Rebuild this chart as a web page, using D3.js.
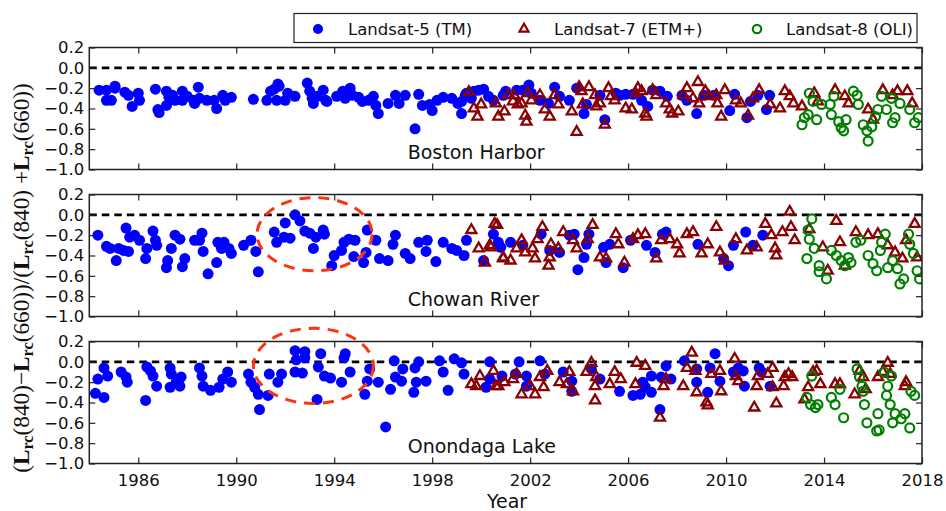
<!DOCTYPE html>
<html>
<head>
<meta charset="utf-8">
<script src="https://cdn.jsdelivr.net/npm/d3@7"></script>
<style>
  body { margin: 0; background: #fff; }
  svg { display: block; font-family: "DejaVu Sans", sans-serif; }
</style>
</head>
<body>
<div id="chart"></div>
<script>

// ================================ data (year, ratio)
var bostonL5 = [
  [1984.4,-0.22],[1984.7,-0.22],[1984.7,-0.32],[1984.9,-0.32],[1985.05,-0.18],[1985.05,-0.2],
  [1985.45,-0.24],[1985.6,-0.27],[1985.75,-0.38],[1986.0,-0.25],[1986.05,-0.32],[1986.7,-0.21],
  [1986.8,-0.41],[1986.85,-0.44],[1987.15,-0.23],[1987.15,-0.37],[1987.25,-0.29],[1987.4,-0.27],
  [1987.5,-0.32],[1987.8,-0.23],[1987.8,-0.32],[1988.0,-0.28],[1988.25,-0.32],[1988.3,-0.35],
  [1988.45,-0.19],[1988.5,-0.30],[1988.8,-0.32],[1989.1,-0.32],[1989.2,-0.40],[1989.45,-0.27],
  [1989.55,-0.32],[1989.8,-0.29],[1990.7,-0.31],[1991.25,-0.32],[1991.4,-0.23],[1991.55,-0.21],
  [1991.7,-0.16],[1991.75,-0.18],[1991.65,-0.32],[1992.0,-0.32],[1992.1,-0.25],[1992.4,-0.28],
  [1992.9,-0.15],[1993.0,-0.23],[1993.1,-0.30],[1993.15,-0.35],[1993.3,-0.28],[1993.55,-0.22],
  [1993.65,-0.32],[1993.7,-0.33],[1994.1,-0.28],[1994.3,-0.27],[1994.35,-0.23],[1994.45,-0.30],
  [1994.65,-0.20],[1994.75,-0.27],[1995.0,-0.29],[1995.15,-0.33],[1995.4,-0.32],[1995.6,-0.28],
  [1995.7,-0.37],[1995.8,-0.45],[1996.2,-0.35],[1996.5,-0.27],[1996.65,-0.35],[1996.9,-0.27],
  [1997.3,-0.60],[1997.45,-0.26],[1997.6,-0.37],[1997.9,-0.36],[1998.0,-0.42],[1998.2,-0.32],
  [1998.45,-0.29],[1998.8,-0.30],[1999.05,-0.35],[1999.2,-0.45],[1999.35,-0.27],[1999.6,-0.30],
  [1999.2,-0.33],[1999.4,-0.25],[1999.7,-0.23],[1999.9,-0.22],[2000.1,-0.21],[2000.3,-0.28],
  [2000.5,-0.32],[2000.9,-0.27],[2001.0,-0.23],[2001.45,-0.22],[2001.7,-0.22],[2001.95,-0.17],
  [2002.05,-0.25],[2002.4,-0.32],[2002.75,-0.35],[2003.0,-0.19],[2003.2,-0.28],[2003.6,-0.32],
  [2003.9,-0.20],[2004.2,-0.45],[2004.3,-0.36],[2004.85,-0.27],[2005.05,-0.51],[2005.5,-0.25],
  [2005.65,-0.27],[2005.9,-0.26],[2006.2,-0.26],[2006.55,-0.32],[2006.8,-0.38],[2007.0,-0.22],
  [2007.3,-0.23],[2007.6,-0.28],[2008.2,-0.27],[2008.4,-0.32],[2008.8,-0.45],[2009.1,-0.27],
  [2009.5,-0.27],[2010.15,-0.42],[2010.35,-0.26],[2010.85,-0.49],[2011.0,-0.33],[2011.3,-0.27],
  [2011.65,-0.41],[2011.78,-0.27]
];
var bostonL7 = [
  [1999.5,-0.24],[1999.7,-0.40],[1999.85,-0.48],[2000.0,-0.36],[2000.6,-0.35],[2000.7,-0.48],
  [2000.95,-0.43],[2001.1,-0.27],[2001.3,-0.33],[2001.35,-0.27],[2001.5,-0.36],[2001.65,-0.35],
  [2001.8,-0.47],[2001.85,-0.53],[2001.9,-0.25],[2002.05,-0.32],[2002.4,-0.27],[2002.6,-0.41],
  [2002.8,-0.48],[2003.0,-0.27],[2003.15,-0.36],[2003.7,-0.43],[2003.9,-0.63],[2004.0,-0.19],
  [2004.1,-0.23],[2004.15,-0.36],[2004.4,-0.19],[2004.65,-0.27],[2004.7,-0.38],[2004.85,-0.35],
  [2005.05,-0.56],[2005.2,-0.20],[2005.3,-0.28],[2005.45,-0.32],[2005.9,-0.40],[2006.15,-0.41],
  [2006.3,-0.25],[2006.4,-0.20],[2006.55,-0.23],[2006.7,-0.45],[2006.75,-0.48],[2007.0,-0.22],
  [2007.15,-0.27],[2007.55,-0.35],[2007.7,-0.41],[2007.8,-0.45],[2008.05,-0.43],[2008.25,-0.27],
  [2008.4,-0.20],[2008.65,-0.30],[2008.85,-0.14],[2008.9,-0.35],[2009.15,-0.23],[2009.3,-0.28],
  [2009.6,-0.27],[2009.65,-0.35],[2009.8,-0.48],[2009.95,-0.22],[2010.4,-0.32],[2010.6,-0.35],
  [2010.9,-0.47],[2011.1,-0.30],[2011.35,-0.22],[2011.8,-0.36],[2012.2,-0.40],[2012.4,-0.23],
  [2012.6,-0.28],[2012.75,-0.35],[2013.1,-0.38],[2013.6,-0.25],[2013.75,-0.33],[2014.45,-0.22],
  [2014.85,-0.28],[2015.0,-0.35],[2015.8,-0.41],[2016.0,-0.51],[2016.4,-0.22],[2016.8,-0.27],
  [2017.0,-0.23],[2017.4,-0.23],[2017.6,-0.35]
];
var bostonL8 = [
  [2013.1,-0.56],[2013.2,-0.49],[2013.35,-0.46],[2013.4,-0.25],[2013.55,-0.33],[2013.7,-0.51],
  [2013.9,-0.36],[2014.25,-0.36],[2014.3,-0.46],[2014.4,-0.28],[2014.6,-0.53],[2014.7,-0.59],
  [2014.8,-0.62],[2014.9,-0.51],[2015.2,-0.23],[2015.35,-0.27],[2015.4,-0.36],[2015.6,-0.56],
  [2015.75,-0.62],[2015.8,-0.72],[2015.95,-0.58],[2016.1,-0.48],[2016.2,-0.41],[2016.35,-0.28],
  [2016.55,-0.41],[2016.75,-0.30],[2016.8,-0.54],[2016.9,-0.49],[2017.1,-0.35],[2017.5,-0.41],
  [2017.7,-0.54],[2017.85,-0.49]
];

var chowanL5 = [
  [1984.35,-0.20],[1984.7,-0.31],[1984.85,-0.33],[1985.1,-0.45],[1985.2,-0.33],[1985.4,-0.35],
  [1985.5,-0.13],[1985.6,-0.36],[1985.65,-0.22],[1985.85,-0.20],[1986.05,-0.25],[1986.3,-0.43],
  [1986.35,-0.33],[1986.6,-0.16],[1986.7,-0.25],[1986.75,-0.30],[1987.15,-0.52],[1987.2,-0.45],
  [1987.35,-0.33],[1987.5,-0.20],[1987.7,-0.24],[1987.8,-0.51],[1987.9,-0.43],[1988.3,-0.25],
  [1988.6,-0.18],[1988.5,-0.25],[1988.65,-0.36],[1988.85,-0.58],[1989.2,-0.47],[1989.25,-0.27],
  [1989.4,-0.33],[1989.5,-0.27],[1989.7,-0.33],[1989.8,-0.38],[1990.3,-0.30],[1990.6,-0.25],
  [1990.8,-0.36],[1990.9,-0.56],[1991.55,-0.17],[1991.65,-0.27],[1991.95,-0.22],[1992.0,-0.08],
  [1992.2,-0.23],[1992.4,0.00],[1992.6,-0.06],[1992.8,-0.16],[1993.0,-0.18],[1993.15,-0.33],
  [1993.25,-0.22],[1993.55,-0.15],[1993.6,-0.19],[1993.9,-0.50],[1994.0,-0.40],[1994.3,-0.35],
  [1994.4,-0.27],[1994.6,-0.24],[1994.85,-0.25],[1994.8,-0.41],[1995.2,-0.47],[1995.35,-0.15],
  [1995.3,-0.37],[1995.7,-0.25],[1995.85,-0.43],[1996.2,-0.45],[1996.4,-0.29],[1996.5,-0.20],
  [1996.9,-0.38],[1997.1,-0.43],[1997.45,-0.27],[1997.75,-0.36],[1997.8,-0.25],[1998.15,-0.46],
  [1998.45,-0.27],[1998.8,-0.33],[1999.0,-0.35],[1999.3,-0.40],[1999.4,-0.25],[2000.1,-0.45],
  [2000.5,-0.19],[2000.7,-0.27],[2000.8,-0.32],[2001.2,-0.27],[2001.7,-0.30],[2002.45,-0.19],
  [2002.8,-0.35],[2003.2,-0.37],[2003.6,-0.20],[2003.8,-0.19],[2003.95,-0.54],[2004.2,-0.42],
  [2004.3,-0.29],[2004.4,-0.19],[2005.0,-0.32],[2005.1,-0.47],[2005.25,-0.29],[2005.8,-0.52],
  [2006.1,-0.25],[2006.75,-0.30],[2007.1,-0.37],[2007.4,-0.19],[2007.55,-0.17],[2008.85,-0.29],
  [2009.9,-0.43],[2010.1,-0.50],[2010.3,-0.30],[2010.8,-0.17],[2011.1,-0.30],[2011.5,-0.20]
];
var chowanL7 = [
  [1999.6,-0.15],[1999.9,-0.33],[2000.15,-0.47],[2000.35,-0.30],[2000.65,-0.10],[2000.9,-0.43],
  [2000.55,-0.09],[2000.4,-0.32],[2000.9,-0.42],[2001.2,-0.45],[2001.45,-0.33],[2001.65,-0.25],
  [2001.8,-0.37],[2002.1,-0.33],[2002.2,-0.43],[2002.3,-0.24],[2002.5,-0.12],[2002.75,-0.50],
  [2002.8,-0.42],[2002.85,-0.29],[2003.15,-0.33],[2003.35,-0.17],[2003.75,-0.25],[2003.9,-0.33],
  [2004.35,-0.24],[2004.55,-0.10],[2004.85,-0.42],[2005.1,-0.43],[2005.5,-0.19],[2005.6,-0.29],
  [2005.85,-0.47],[2006.2,-0.24],[2006.4,-0.20],[2006.7,-0.19],[2007.15,-0.43],[2007.35,-0.25],
  [2007.7,-0.24],[2008.0,-0.29],[2008.1,-0.38],[2008.4,-0.19],[2008.65,-0.17],[2009.0,-0.38],
  [2009.25,-0.29],[2009.6,-0.12],[2009.75,-0.37],[2009.95,-0.45],[2010.4,-0.24],[2010.85,-0.35],
  [2011.25,-0.32],[2011.6,-0.09],[2011.85,-0.20],[2012.0,-0.33],[2012.05,-0.40],[2012.3,-0.17],
  [2012.6,0.03],[2012.65,-0.12],[2012.8,-0.25],[2013.4,-0.14],[2013.95,-0.32],[2014.15,-0.55],
  [2014.5,-0.06],[2014.65,-0.27],[2014.85,-0.50],[2015.3,-0.17],[2015.8,-0.20],[2016.2,-0.19],
  [2016.6,-0.30],[2016.9,-0.37],[2017.2,-0.43],[2017.35,-0.25],[2017.7,-0.09],[2017.8,-0.42]
];
var chowanL8 = [
  [2013.3,-0.43],[2013.5,-0.04],[2013.35,-0.15],[2013.4,-0.24],[2013.6,-0.33],[2013.8,-0.50],
  [2013.8,-0.56],[2014.1,-0.63],[2014.3,-0.35],[2014.5,-0.40],[2014.7,-0.45],[2014.85,-0.50],
  [2015.0,-0.42],[2015.1,-0.47],[2015.3,-0.27],[2015.5,-0.25],[2015.8,-0.40],[2016.0,-0.48],
  [2016.15,-0.55],[2016.3,-0.35],[2016.35,-0.27],[2016.5,-0.19],[2016.6,-0.52],[2016.8,-0.45],
  [2017.0,-0.53],[2017.1,-0.68],[2017.25,-0.63],[2017.45,-0.19],[2017.5,-0.29],[2017.65,-0.38],
  [2017.8,-0.55],[2017.9,-0.63]
];

var onondagaL5 = [
  [1984.25,-0.31],[1984.35,-0.17],[1984.6,-0.35],[1984.6,-0.06],[1984.75,-0.14],[1985.3,-0.10],
  [1985.5,-0.15],[1985.55,-0.20],[1986.3,-0.38],[1986.35,-0.05],[1986.5,-0.09],[1986.6,-0.14],
  [1986.75,-0.24],[1987.3,-0.06],[1987.35,-0.12],[1987.3,-0.25],[1987.55,-0.20],[1987.75,-0.15],
  [1987.7,-0.24],[1988.5,-0.06],[1988.6,-0.14],[1988.65,-0.24],[1988.95,-0.28],[1989.3,-0.25],
  [1989.45,-0.17],[1989.65,-0.10],[1989.8,-0.20],[1990.5,-0.12],[1990.6,-0.20],[1990.75,-0.25],
  [1990.9,-0.32],[1990.95,-0.47],[1991.3,-0.33],[1991.35,-0.12],[1991.7,-0.20],[1991.85,-0.12],
  [1992.4,-0.10],[1992.4,0.11],[1992.45,0.02],[1992.8,0.10],[1992.8,0.04],[1992.7,-0.11],
  [1993.3,-0.37],[1993.35,-0.05],[1993.45,0.08],[1993.6,-0.14],[1993.85,-0.16],[1994.3,-0.20],
  [1994.45,0.08],[1994.4,0.04],[1994.65,-0.10],[1995.25,-0.32],[1995.35,-0.19],[1995.45,-0.07],
  [1995.8,-0.20],[1996.1,-0.64],[1996.3,-0.27],[1996.45,0.01],[1996.5,-0.15],[1996.75,-0.19],
  [1996.8,-0.07],[1997.25,-0.30],[1997.3,-0.06],[1997.35,-0.20],[1997.45,0.00],[1997.75,-0.19],
  [1998.3,0.01],[1998.45,-0.10],[1998.65,-0.28],[1998.9,0.03],[1999.2,-0.01],[1999.3,-0.12],
  [2000.2,-0.25],[2000.35,0.00],[2000.35,-0.17],[2000.85,-0.14],[2001.4,-0.12],[2001.55,0.00],
  [2001.85,-0.14],[2001.85,-0.24],[2002.4,0.01],[2002.6,-0.12],[2003.35,-0.10],[2003.7,-0.19],
  [2003.7,-0.29],[2004.5,-0.07],[2004.85,-0.17],[2005.65,-0.29],[2006.2,-0.33],[2006.5,-0.32],
  [2006.6,-0.20],[2006.7,-0.25],[2006.95,-0.14],[2006.95,-0.30],[2007.3,-0.47],[2007.35,-0.15],
  [2007.55,-0.04],[2007.75,-0.17],[2008.3,0.01],[2008.8,-0.20],[2008.8,-0.07],[2009.25,-0.30],
  [2009.35,-0.06],[2009.55,0.08],[2009.75,-0.19],[2010.3,-0.10],[2010.5,-0.06],[2010.7,-0.09],
  [2010.75,-0.24],[2011.35,-0.06],[2011.45,-0.10],[2011.8,-0.24]
];
var onondagaL7 = [
  [1999.6,-0.22],[1999.8,-0.24],[1999.95,-0.14],[2000.5,-0.09],[2000.7,-0.24],[2000.6,-0.24],
  [2000.95,-0.20],[2001.3,-0.17],[2001.45,-0.12],[2001.65,-0.32],[2002.0,-0.24],[2002.2,-0.32],
  [2002.4,-0.15],[2002.55,-0.25],[2002.7,-0.09],[2003.2,-0.20],[2003.5,-0.22],[2003.6,-0.10],
  [2003.75,-0.29],[2004.3,-0.10],[2004.5,-0.01],[2004.65,-0.24],[2004.65,-0.38],[2004.7,-0.15],
  [2005.25,-0.22],[2005.45,-0.10],[2005.7,-0.17],[2006.3,-0.22],[2006.35,-0.01],[2006.7,-0.04],
  [2007.3,-0.55],[2007.45,-0.24],[2007.55,-0.17],[2008.25,-0.24],[2008.4,-0.06],[2008.6,0.09],
  [2008.75,-0.09],[2008.8,-0.30],[2009.2,-0.40],[2009.25,-0.43],[2009.4,-0.12],[2009.75,-0.09],
  [2009.8,-0.29],[2010.35,0.03],[2010.4,-0.14],[2010.5,-0.19],[2011.15,-0.45],[2011.25,-0.24],
  [2011.3,-0.14],[2011.7,-0.12],[2011.9,-0.06],[2011.9,-0.25],[2012.05,-0.41],[2012.35,-0.24],
  [2012.4,-0.15],[2012.55,-0.12],[2012.7,-0.15],[2013.2,-0.37],[2013.35,-0.25],[2013.55,-0.10],
  [2013.7,-0.09],[2013.85,-0.22],[2014.45,-0.22],[2014.65,-0.22],[2015.25,-0.32],[2015.45,-0.09],
  [2015.6,-0.15],[2015.7,-0.27],[2016.2,-0.15],[2016.4,-0.10],[2016.6,-0.01],[2016.7,-0.12],
  [2017.3,-0.24],[2017.35,-0.20]
];
var onondagaL8 = [
  [2013.3,-0.35],[2013.5,-0.14],[2013.45,-0.42],[2013.65,-0.45],[2013.75,-0.42],[2014.3,-0.35],
  [2014.45,-0.42],[2014.65,-0.27],[2014.8,-0.55],[2015.35,-0.07],[2015.45,-0.15],[2015.55,-0.24],
  [2015.6,-0.29],[2015.65,-0.42],[2015.75,-0.60],[2016.15,-0.68],[2016.2,-0.51],[2016.25,-0.67],
  [2016.45,-0.10],[2016.55,-0.33],[2016.6,-0.24],[2016.7,-0.42],[2016.75,-0.14],[2016.8,-0.60],
  [2016.9,-0.51],[2017.15,-0.56],[2017.3,-0.51],[2017.5,-0.65],[2017.55,-0.29],[2017.7,-0.33]
];

var siteNames = ["Boston Harbor", "Chowan River", "Onondaga Lake"];
var sensorNames = ["Landsat-5 (TM)", "Landsat-7 (ETM+)", "Landsat-8 (OLI)"];
var xTicks = [1986, 1990, 1994, 1998, 2002, 2006, 2010, 2014, 2018];
var yTicks = [0.2, 0.0, -0.2, -0.4, -0.6, -0.8, -1.0];
// dashed ellipses [year, ratio, half-width yrs, half-height]
var chowanEllipse = [1993.2, -0.19, 2.35, 0.36];
var onondagaEllipse = [1993.15, -0.04, 2.45, 0.37];

// ================================ layout
var svgWidth = 946;
var svgHeight = 511;
var plotLeft = 89.3, plotRight = 922;
var panelTops = [47.5, 194.5, 341.5];
var panelHeight = 122;

var blue = "#0000ff", darkRed = "#8b0000", green = "#008000";

var panels = [
  { name: siteNames[0], l5: bostonL5, l7: bostonL7, l8: bostonL8, ellipse: null },
  { name: siteNames[1], l5: chowanL5, l7: chowanL7, l8: chowanL8, ellipse: chowanEllipse },
  { name: siteNames[2], l5: onondagaL5, l7: onondagaL7, l8: onondagaL8, ellipse: onondagaEllipse }
];

var svg = d3.select("#chart")
  .append("svg")
  .attr("width", svgWidth)
  .attr("height", svgHeight);

var xScale = d3.scaleLinear()
  .domain([1984, 2018])
  .range([plotLeft, plotRight]);

var tri = d3.symbol().type(d3.symbolTriangle).size(44);

panels.forEach(function (p, i) {
  var top = panelTops[i];
  var yScale = d3.scaleLinear()
    .domain([-1.0, 0.2])
    .range([top + panelHeight, top]);

  var g = svg.append("g");

  // clip so markers stay in the axes
  var clipId = "clip" + i;
  svg.append("clipPath").attr("id", clipId)
    .append("rect")
    .attr("x", plotLeft).attr("y", top)
    .attr("width", plotRight - plotLeft).attr("height", panelHeight);

  var inner = g.append("g").attr("clip-path", "url(#" + clipId + ")");

  // zero line
  inner.append("line")
    .attr("x1", plotLeft).attr("x2", plotRight)
    .attr("y1", yScale(0)).attr("y2", yScale(0))
    .attr("stroke", "black")
    .attr("stroke-width", 2.6)
    .attr("stroke-dasharray", "7.5,5");

  inner.selectAll(".l5")
    .data(p.l5)
    .enter()
    .append("circle")
    .attr("class", "l5")
    .attr("cx", d => xScale(d[0]))
    .attr("cy", d => yScale(d[1]))
    .attr("r", 5.5)
    .attr("fill", blue);

  inner.selectAll(".l7")
    .data(p.l7)
    .enter()
    .append("path")
    .attr("class", "l7")
    .attr("d", tri)
    .attr("transform", d => `translate(${xScale(d[0])},${yScale(d[1])})`)
    .attr("fill", "none")
    .attr("stroke", darkRed)
    .attr("stroke-width", 2.3);

  inner.selectAll(".l8")
    .data(p.l8)
    .enter()
    .append("circle")
    .attr("class", "l8")
    .attr("cx", d => xScale(d[0]))
    .attr("cy", d => yScale(d[1]))
    .attr("r", 4.5)
    .attr("fill", "none")
    .attr("stroke", green)
    .attr("stroke-width", 2.2);

  if (p.ellipse) {
    var e = p.ellipse;
    g.append("ellipse")
      .attr("cx", xScale(e[0]))
      .attr("cy", yScale(e[1]))
      .attr("rx", xScale(e[0] + e[2]) - xScale(e[0]))
      .attr("ry", yScale(e[1] - e[3]) - yScale(e[1]))
      .attr("fill", "none")
      .attr("stroke", "#ff3311")
      .attr("stroke-width", 3)
      .attr("stroke-dasharray", "11,8");
  }

  // axes, ticks inward like matplotlib classic
  var bottomAxis = d3.axisBottom(xScale).tickValues(xTicks).tickSize(-6).tickPadding(11)
    .tickFormat(d3.format("d"));
  if (i < 2) bottomAxis.tickFormat("");
  var topAxis = d3.axisTop(xScale).tickValues(xTicks).tickSize(-6).tickFormat("");
  var leftAxis = d3.axisLeft(yScale).tickValues(yTicks).tickSize(-6).tickPadding(5)
    .tickFormat(d3.format(".1f"));
  var rightAxis = d3.axisRight(yScale).tickValues(yTicks).tickSize(-6).tickFormat("");

  [[bottomAxis, `translate(0,${top + panelHeight})`],
   [topAxis, `translate(0,${top})`],
   [leftAxis, `translate(${plotLeft},0)`],
   [rightAxis, `translate(${plotRight},0)`]].forEach(function (a) {
    var ag = g.append("g").attr("transform", a[1]).call(a[0]);
    ag.select(".domain").remove();
    ag.selectAll("line").attr("stroke", "#222").attr("stroke-width", 1.2);
    ag.selectAll("text")
      .style("font-family", "DejaVu Sans")
      .style("font-size", "16.5px")
      .attr("fill", "#111");
  });

  g.append("rect")
    .attr("x", plotLeft).attr("y", top)
    .attr("width", plotRight - plotLeft).attr("height", panelHeight)
    .attr("fill", "none")
    .attr("stroke", "#222")
    .attr("stroke-width", 1.5);

  g.append("text")
    .attr("x", xScale(1997))
    .attr("y", yScale(-0.9))
    .style("font-size", "19px")
    .attr("fill", "#111")
    .text(p.name);
});

// x label
svg.append("text")
  .attr("x", 507)
  .attr("y", 508)
  .style("text-anchor", "middle")
  .style("font-size", "19px")
  .attr("fill", "#111")
  .text("Year");

// y label (mathtext style)
var ylab = svg.append("text")
  .attr("transform", "translate(29,278) rotate(-90)")
  .style("text-anchor", "middle")
  .style("font-family", "'Liberation Serif', serif")
  .style("font-size", "20px")
  .attr("fill", "#111");

var parts = [["(",0],["L",1],["rc",2],["(840)",0],["\u2212",0],["L",1],["rc",2],["(660))",0],
  ["/",0],["(",0],["L",1],["rc",2],["(840) ",0],["+",0],["L",1],["rc",2],["(660))",0]];
var wasSub = false;
parts.forEach(function (pt) {
  var ts = ylab.append("tspan").text(pt[0]);
  if (pt[1] >= 1) ts.style("font-weight", "bold");
  if (pt[1] === 2) {
    ts.style("font-size", "14px").attr("dy", 4);
    wasSub = true;
  } else if (wasSub) {
    ts.attr("dy", -4);
    wasSub = false;
  }
});
var len = ylab.node().getComputedTextLength();
if (len > 0) {
  var k = 390 / len;
  ylab.style("font-size", (20 * k) + "px");
  ylab.selectAll("tspan").filter(function () { return this.style.fontSize === "14px"; })
    .style("font-size", (14 * k) + "px");
}

// legend
var legend = svg.append("g");
legend.append("rect")
  .attr("x", 294).attr("y", 13.5)
  .attr("width", 623).attr("height", 29)
  .attr("fill", "white")
  .attr("stroke", "#222")
  .attr("stroke-width", 1.2);

legend.append("circle")
  .attr("cx", 318).attr("cy", 29).attr("r", 5)
  .attr("fill", blue);
legend.append("path")
  .attr("d", d3.symbol().type(d3.symbolTriangle).size(36))
  .attr("transform", "translate(524,29)")
  .attr("fill", "none").attr("stroke", darkRed).attr("stroke-width", 2.2);
legend.append("circle")
  .attr("cx", 757).attr("cy", 29).attr("r", 4.2)
  .attr("fill", "none").attr("stroke", green).attr("stroke-width", 2.2);

[[348, sensorNames[0]], [554, sensorNames[1]], [786, sensorNames[2]]].forEach(function (l) {
  legend.append("text")
    .attr("x", l[0]).attr("y", 34.5)
    .style("font-size", "16.5px")
    .attr("fill", "#111")
    .text(l[1]);
});

</script>
</body>
</html>
